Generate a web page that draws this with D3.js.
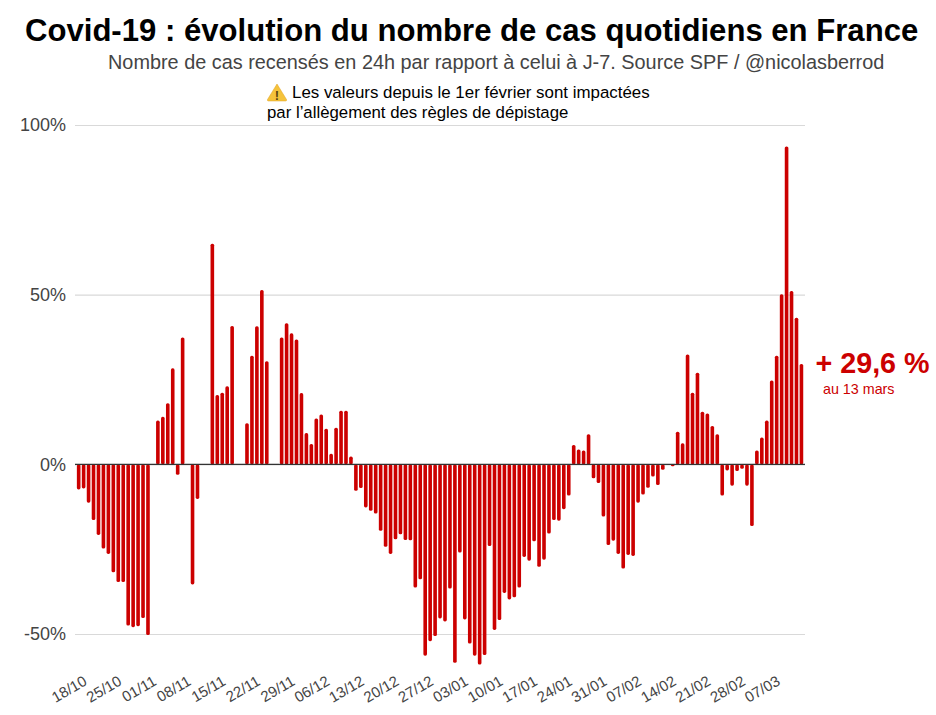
<!DOCTYPE html>
<html>
<head>
<meta charset="utf-8">
<script src="https://cdn.jsdelivr.net/npm/d3@7"></script>
<style>
body { margin: 0; background: #fff; }
text { font-family: "Liberation Sans", Arial, sans-serif; }
</style>
</head>
<body>
<svg id="chart" width="936" height="715"></svg>
<script>
// variation J-7 en %, du 18/10 au 13/03 (null = pas de valeur ce jour-la)
values = [
  -7.4, -7.1, -11.3, -16.4, -20.8, -24.8, -26.4, -31.8, -34.7, -34.7, -47.5, -48, -47.7, -45.3,
  -50.3, null, 12.9, 14, 18, 28.3, -3.1, 37.4, null, -35.4, -10.2, null, null, 65,
  20.4, 21.1, 23, 40.8, null, null, 12.1, 32, 40.7, 51.4, 30.4, null, null, 37.4,
  41.6, 38.6, 36.8, 21, 9.2, 6, 13.5, 14.7, 10.5, 3.1, 10.8, 15.8, 15.8, 2.3,
  -7.8, -7, -12.7, -13.7, -14.5, -19.6, -24.3, -26.4, -22.1, -20.6, -22.3, -22.4, -36.3, -33.9,
  -56.4, -52.1, -50.6, -45.4, -46.3, -36.6, -58.5, -26, -45.7, -52.8, -56.4, -59, -56.2, -24.1,
  -48.8, -45.9, -37.9, -39.8, -39.2, -36.3, -27.3, -28.4, -22.7, -30.2, -28.1, -20.4, -16.4, -16.6,
  -13.2, -9.2, 5.7, 4.4, 4.1, 8.9, -4.1, -5.5, -15.4, -23.8, -22.5, -26.4, -30.7, -26.7,
  -27, -11.3, -8.9, -6.9, -3.6, -6.1, -1.6, -0.2, -0.6, 9.6, 6.2, 32.4, 21.1, 27,
  15.5, 15, 11.3, 8.9, -9.2, -1.8, -6.3, -2, -1.3, -6.3, -18.2, 4.1, 7.9, 12.9,
  24.7, 32, 50.1, 93.7, 51.1, 43.2, 29.6
]
dayFormat = d3.utcFormat("%d/%m")
days = d3.utcDays(new Date(Date.UTC(2020, 9, 18)), new Date(Date.UTC(2021, 2, 14))).map(dayFormat)
tickLabels = ["18/10", "25/10", "01/11", "08/11", "15/11", "22/11", "29/11", "06/12", "13/12", "20/12", "27/12",
  "03/01", "10/01", "17/01", "24/01", "31/01", "07/02", "14/02", "21/02", "28/02", "07/03"]
yTicks = [-50, 0, 50, 100]

svg = d3.select("#chart")

x = d3.scaleBand().domain(days).range([76.2, 803.9]).paddingInner(0.27).paddingOuter(0.135)
y = d3.scaleLinear().domain([-50, 100]).range([634, 125])

//grid and y axis

yAxis = d3.axisLeft(y).tickValues(yTicks).tickSize(-730).tickPadding(9).tickFormat(d => d + "%")
svg.append("g")
  .attr("transform", "translate(75,0)")
  .call(yAxis)
  .call(g => g.select(".domain").remove())
  .call(g => g.selectAll("line").attr("stroke", "#d9d9d9").attr("stroke-width", 1.2))
  .call(g => g.selectAll("text").attr("fill", "#444").style("font-size", "18px").style("font-family", "Liberation Sans"))

//bars

svg.append("g").selectAll("rect")
  .data(values.map((v, i) => ({ day: days[i], v: v })).filter(d => d.v !== null))
  .join("rect")
  .attr("x", d => x(d.day))
  .attr("width", x.bandwidth())
  .attr("y", d => y(Math.max(0, d.v)))
  .attr("height", d => Math.abs(y(d.v) - y(0)))
  .attr("rx", 1.6)
  .attr("fill", "#cc0000")

svg.append("line")
  .attr("x1", 75).attr("x2", 805)
  .attr("y1", y(0)).attr("y2", y(0))
  .attr("stroke", "#333").attr("stroke-width", 1.2)

//x axis

xAxis = d3.axisBottom(x).tickValues(tickLabels).tickSize(0).tickPadding(0)
svg.append("g")
  .attr("transform", "translate(0,672)")
  .call(xAxis)
  .call(g => g.select(".domain").remove())
  .call(g => g.selectAll("text")
    .attr("fill", "#444")
    .style("font-size", "15px")
    .style("font-family", "Liberation Sans")
    .attr("text-anchor", "end")
    .attr("transform", "translate(7,8) rotate(-30)")
    .attr("dy", "0.32em")
    .attr("y", 0))

//title, subtitle, note

svg.append("text").attr("x", 25).attr("y", 41)
  .attr("font-size", 31.1).attr("font-weight", "bold").attr("fill", "#000")
  .text("Covid-19 : évolution du nombre de cas quotidiens en France")
svg.append("text").attr("x", 108).attr("y", 68.5)
  .attr("font-size", 19.86).attr("fill", "#444")
  .text("Nombre de cas recensés en 24h par rapport à celui à J-7. Source SPF / @nicolasberrod")

warn = svg.append("g").attr("transform", "translate(267,83)")
warn.append("path")
  .attr("d", "M10,1 L19.5,16.5 Q20,18 18.5,18 L1.5,18 Q0,18 0.5,16.5 Z")
  .attr("fill", "#f5c33b").attr("stroke", "#e0a020").attr("stroke-width", 0.5)
warn.append("text").attr("x", 10).attr("y", 16.5).attr("text-anchor", "middle")
  .attr("font-size", 13).attr("font-weight", "bold").attr("fill", "#5b4510").text("!")

svg.append("text").attr("x", 292).attr("y", 98)
  .attr("font-size", 16.9).attr("fill", "#000")
  .text("Les valeurs depuis le 1er février sont impactées")
svg.append("text").attr("x", 267).attr("y", 118)
  .attr("font-size", 16.8).attr("fill", "#000")
  .text("par l’allègement des règles de dépistage")

//last value callout

svg.append("text").attr("x", 815.5).attr("y", 372.5)
  .attr("font-size", 28.7).attr("font-weight", "bold").attr("fill", "#cc0000")
  .text("+ 29,6 %")
svg.append("text").attr("x", 823).attr("y", 394)
  .attr("font-size", 14.3).attr("fill", "#cc0000")
  .text("au 13 mars")
</script>
</body>
</html>
